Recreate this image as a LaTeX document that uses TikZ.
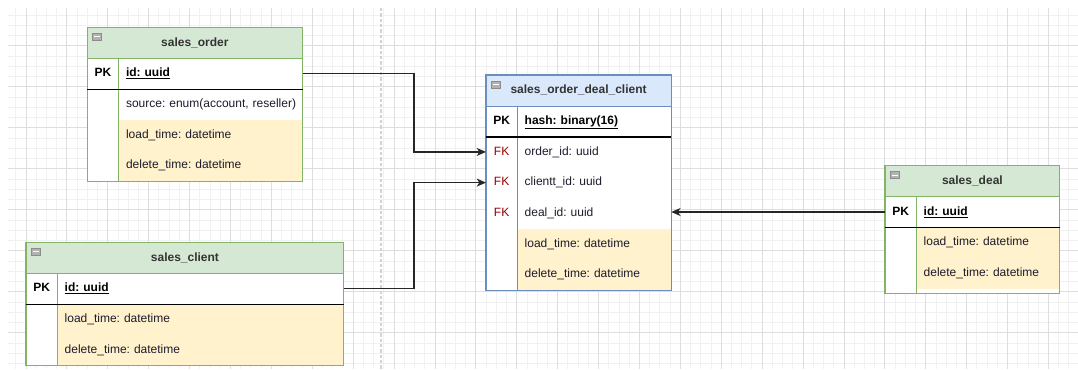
\documentclass[tikz,border=0pt]{standalone}
\usepackage{fontspec}
\setmainfont{Liberation Sans}
\usetikzlibrary{arrows.meta}
\frenchspacing

\definecolor{hdrgreen}{HTML}{D5E8D4}
\definecolor{edgegreen}{HTML}{82B366}
\definecolor{hdrblue}{HTML}{DAE8FC}
\definecolor{edgeblue}{HTML}{6C8EBF}
\definecolor{rowyellow}{HTML}{FFF2CC}
\definecolor{gridminor}{HTML}{F1F1F1}
\definecolor{gridmajor}{HTML}{DEDEDE}
\definecolor{guidegray}{HTML}{D2D2D2}
\definecolor{headtext}{HTML}{333333}
\definecolor{fieldtext}{HTML}{1C1C2C}
\definecolor{fkred}{HTML}{990000}
\definecolor{linkgray}{HTML}{262626}

\tikzset{
  head/.style={anchor=north west, inner sep=0pt, minimum height=23pt,
    text height=6.6pt, text depth=1.9pt, text=headtext,
    font=\fontsize{9}{11}\selectfont\bfseries},
  key/.style={anchor=north west, fill=white, inner sep=0pt, minimum width=23pt,
    minimum height=23pt, text height=6.6pt, text depth=1.9pt, text=black,
    font=\fontsize{9}{11}\selectfont},
  field/.style={anchor=north west, fill=white, inner xsep=5.8pt, inner ysep=0pt,
    minimum height=23pt, align=left, text height=6.6pt, text depth=1.9pt,
    text=fieldtext, font=\fontsize{9}{11}\selectfont},
  pk/.style={text=black, font=\fontsize{9}{11}\selectfont\bfseries},
  fk/.style={text=fkred},
  dt/.style={fill=rowyellow},
  ordercol/.style={text width=126.4pt},
  centercol/.style={text width=103.9pt},
  clientcol/.style={text width=203.3pt},
  dealcol/.style={text width=96.1pt},
  greenline/.style={draw=edgegreen, line width=0.8pt},
  blueline/.style={draw=edgeblue, line width=0.8pt},
  pkline/.style={draw=black, line width=1pt},
  icon/.style={fill=black!30, draw=black!45, line width=0.5pt},
  link/.style={draw=linkgray, line width=0.9pt, -{Stealth[length=7pt,width=6pt,inset=2pt]}},
}

\begin{document}
\begin{tikzpicture}[x=0.75pt, y=-0.75pt]
\useasboundingbox (0,0) rectangle (1078,369);

% grid
\foreach \k in {-1,...,102}
  \draw[gridminor, line width=0.6pt] ({25.9+\k*10.225},8) -- ({25.9+\k*10.225},369);
\foreach \k in {-3,...,31}
  \draw[gridminor, line width=0.6pt] (8,{45.7+\k*10.25}) -- (1078,{45.7+\k*10.25});
\foreach \k in {0,4,...,100}
  \draw[gridmajor, line width=0.6pt] ({25.9+\k*10.225},8) -- ({25.9+\k*10.225},369);
\foreach \k in {0,4,...,28}
  \draw[gridmajor, line width=0.6pt] (8,{45.7+\k*10.25}) -- (1078,{45.7+\k*10.25});
\draw[guidegray, line width=1.1pt, dash pattern=on 2.5pt off 1.5pt] (381,8) -- (381,369);

% sales_order
\node[head, fill=hdrgreen, minimum width=161pt] (order-head) at (87.3,27.3) {sales\_order};
\node[key, pk] (order-pk-key) at (87.3,58) {PK};
\node[field, pk, ordercol] (order-pk) at (118,58) {\underline{id: uuid}};
\node[key] (order-src-key) at (87.3,88.67) {};
\node[field, ordercol] (order-src) at (118,88.67) {\mbox{source: enum(account, reseller)}};
\node[key] (order-load-key) at (87.3,119.33) {};
\node[field, dt, ordercol] (order-load) at (118,119.33) {load\_time: datetime};
\node[key] (order-del-key) at (87.3,150) {};
\node[field, dt, ordercol] (order-del) at (118,150) {delete\_time: datetime};
\draw[greenline] (order-head.north west) rectangle (order-del.south east);
\draw[greenline] (order-head.south west) -- (order-head.south east);
\draw[greenline] (order-pk-key.north east) -- (order-del-key.south east);
\draw[pkline] (order-pk-key.south west) -- (order-pk.south east);
\draw[icon] ([shift={(5,6)}]order-head.north west) rectangle ++(9,7);
\draw[white, line width=0.6pt] ([shift={(6.5,9.5)}]order-head.north west) -- ++(6,0);

% sales_client
\node[head, fill=hdrgreen, minimum width=238pt] (client-head) at (26,242.3) {sales\_client};
\node[key, pk] (client-pk-key) at (26,273) {PK};
\node[field, pk, clientcol] (client-pk) at (56.7,273) {\underline{id: uuid}};
\node[key] (client-load-key) at (26,303.67) {};
\node[field, dt, clientcol] (client-load) at (56.7,303.67) {load\_time: datetime};
\node[key] (client-del-key) at (26,334.33) {};
\node[field, dt, clientcol] (client-del) at (56.7,334.33) {delete\_time: datetime};
\draw[greenline] (client-head.north west) rectangle (client-del.south east);
\draw[greenline] (client-head.south west) -- (client-head.south east);
\draw[greenline] (client-pk-key.north east) -- (client-del-key.south east);
\draw[pkline] (client-pk-key.south west) -- (client-pk.south east);
\draw[icon] ([shift={(5,6)}]client-head.north west) rectangle ++(9,7);
\draw[white, line width=0.6pt] ([shift={(6.5,9.5)}]client-head.north west) -- ++(6,0);

% sales_order_deal_client
\node[head, fill=hdrblue, minimum width=138.5pt] (cen-head) at (486,75) {sales\_order\_deal\_client};
\node[key, pk] (cen-pk-key) at (486,105.67) {PK};
\node[field, pk, centercol] (cen-pk) at (516.7,105.67) {\underline{hash: binary(16)}};
\node[key, fk] (cen-order-key) at (486,136.33) {FK};
\node[field, centercol] (cen-order) at (516.7,136.33) {order\_id: uuid};
\node[key, fk] (cen-client-key) at (486,167) {FK};
\node[field, centercol] (cen-client) at (516.7,167) {clientt\_id: uuid};
\node[key, fk] (cen-deal-key) at (486,197.67) {FK};
\node[field, centercol] (cen-deal) at (516.7,197.67) {deal\_id: uuid};
\node[key] (cen-load-key) at (486,228.33) {};
\node[field, dt, centercol] (cen-load) at (516.7,228.33) {load\_time: datetime};
\node[key] (cen-del-key) at (486,259) {};
\node[field, dt, centercol] (cen-del) at (516.7,259) {delete\_time: datetime};
\draw[blueline] (cen-head.north west) rectangle (cen-del.south east);
\draw[blueline] (cen-head.south west) -- (cen-head.south east);
\draw[blueline] (cen-pk-key.north east) -- (cen-del-key.south east);
\draw[pkline] (cen-pk-key.south west) -- (cen-pk.south east);
\draw[icon] ([shift={(5,6)}]cen-head.north west) rectangle ++(9,7);
\draw[white, line width=0.6pt] ([shift={(6.5,9.5)}]cen-head.north west) -- ++(6,0);

% sales_deal
\node[head, fill=hdrgreen, minimum width=130.7pt] (deal-head) at (885,165.7) {sales\_deal};
\node[key, pk] (deal-pk-key) at (885,196.4) {PK};
\node[field, pk, dealcol] (deal-pk) at (915.7,196.4) {\underline{id: uuid}};
\node[key] (deal-load-key) at (885,227.07) {};
\node[field, dt, dealcol] (deal-load) at (915.7,227.07) {load\_time: datetime};
\node[key] (deal-del-key) at (885,257.73) {};
\node[field, dt, dealcol] (deal-del) at (915.7,257.73) {delete\_time: datetime};
\fill[white] (deal-del-key.south west) rectangle ([yshift=-3.6pt]deal-del.south east);
\draw[greenline] (deal-head.north west) rectangle ([yshift=-3.6pt]deal-del.south east);
\draw[greenline] (deal-head.south west) -- (deal-head.south east);
\draw[greenline] (deal-pk-key.north east) -- ([yshift=-3.6pt]deal-del-key.south east);
\draw[pkline] (deal-pk-key.south west) -- (deal-pk.south east);
\draw[icon] ([shift={(5,6)}]deal-head.north west) rectangle ++(9,7);
\draw[white, line width=0.6pt] ([shift={(6.5,9.5)}]deal-head.north west) -- ++(6,0);

% links
\coordinate (bus) at (414,0);
\draw[link] (order-pk.east) -- (order-pk.east -| bus) |- (cen-order-key.west);
\draw[link] (client-pk.east) -- (client-pk.east -| bus) |- (cen-client-key.west);
\draw[link] (deal-pk-key.west) -- (deal-pk-key.west -| cen-deal.east);
\end{tikzpicture}
\end{document}
